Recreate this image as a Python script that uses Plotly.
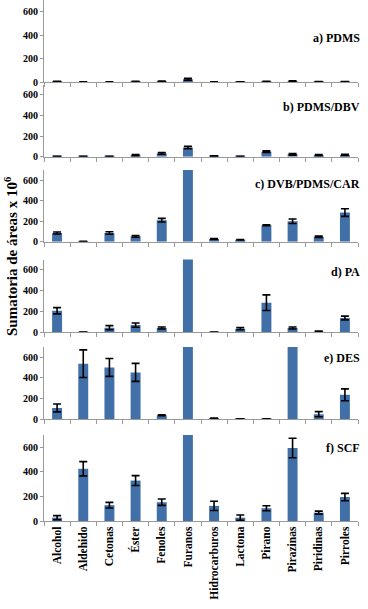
import plotly.graph_objects as go

categories = ["Alcohol", "Aldehido", "Cetonas", "Éster", "Fenoles", "Furanos",
              "Hidrocarburos", "Lactona", "Pirano", "Pirazinas", "Piridinas", "Pirroles"]

panel_labels = ["a) PDMS", "b) PDMS/DBV", "c) DVB/PDMS/CAR", "d) PA", "e) DES", "f) SCF"]

pdms_vals = [5, 2, 2, 5, 8, 25, 2, 3, 5, 8, 4, 4]
pdms_err = [3, 2, 2, 3, 3, 8, 2, 2, 3, 5, 3, 3]

pdms_dbv_vals = [2, 2, 3, 15, 32, 90, 5, 2, 48, 23, 15, 17]
pdms_dbv_err = [2, 2, 2, 5, 8, 12, 3, 2, 8, 8, 6, 6]

dvb_vals = [85, 2, 85, 52, 210, 1500, 26, 19, 160, 200, 48, 284]
dvb_err = [10, 2, 12, 8, 18, 0, 5, 3, 5, 22, 6, 37]

pa_vals = [208, 2, 45, 70, 42, 1500, 2, 36, 285, 42, 8, 138]
pa_err = [30, 2, 20, 20, 10, 0, 2, 10, 75, 10, 5, 18]

des_vals = [110, 538, 502, 454, 39, 1500, 8, 3, 3, 1500, 49, 237]
des_err = [38, 134, 86, 87, 5, 0, 3, 2, 2, 0, 25, 58]

scf_vals = [27, 425, 129, 329, 153, 1500, 123, 27, 104, 594, 68, 195]
scf_err = [17, 58, 23, 40, 26, 0, 38, 22, 20, 79, 12, 30]

y_ticks = [0, 200, 400, 600]

all_vals = [pdms_vals, pdms_dbv_vals, dvb_vals, pa_vals, des_vals, scf_vals]
all_errs = [pdms_err, pdms_dbv_err, dvb_err, pa_err, des_err, scf_err]

# pixel layout (top, bottom) of each panel within the plotting area
W, H = 368, 609
ML, MR, MT, MB = 44, 10, 0, 88
PH = H - MT - MB
panels_px = [(0, 82.3), (84.5, 156.7), (170, 241.7), (259.5, 332.4), (347, 419.3), (435, 521)]
label_px = [38, 107, 184, 272, 358, 448]

BAR = "#4170a9"
AX = "#9a9a9a"
FONT = "Liberation Serif"

fig = go.Figure()
layout = dict(
    width=W, height=H, autosize=False,
    margin=dict(l=ML, r=MR, t=MT, b=MB),
    paper_bgcolor="white", plot_bgcolor="white",
    showlegend=False, bargap=0.6,
    font=dict(family=FONT, color="black"),
)
annotations = []
for i in range(6):
    n = "" if i == 0 else str(i + 1)
    top, bot = panels_px[i]
    fig.add_trace(go.Bar(
        x=categories, y=all_vals[i],
        marker=dict(color=BAR, line=dict(width=0)),
        width=0.38,
        error_y=dict(type="data", array=all_errs[i], visible=True,
                     color="black", thickness=1.6, width=4),
        xaxis="x" + n, yaxis="y" + n,
    ))
    layout["xaxis" + n] = dict(
        domain=[0, 1], anchor="y" + n,
        type="category", categoryorder="array", categoryarray=categories,
        range=[-0.5, 11.5],
        showline=True, linecolor=AX, linewidth=1,
        ticks="outside", tickson="boundaries", ticklen=4, tickcolor=AX,
        showgrid=False, zeroline=False,
        showticklabels=(i == 5), tickangle=-90,
        tickfont=dict(family=FONT, size=11.5, color="black", weight="bold"),
        matches="x" if i > 0 else None,
    )
    layout["yaxis" + n] = dict(
        domain=[(PH - bot) / PH, (PH - top) / PH], anchor="x" + n,
        range=[0, 700], tickvals=y_ticks,
        showline=True, linecolor=AX, linewidth=1,
        ticks="outside", ticklen=3, tickcolor=AX,
        showgrid=False, zeroline=False,
        tickfont=dict(family=FONT, size=10, color="black", weight="bold"),
    )
    annotations.append(dict(
        text="<b>" + panel_labels[i] + "</b>", xref="paper", yref="paper",
        x=(362 - ML) / (W - ML - MR), y=(PH - label_px[i]) / PH,
        xanchor="right", yanchor="middle", showarrow=False,
        font=dict(family=FONT, size=12, color="black"),
    ))

annotations.append(dict(
    text="<b>Sumatoria de áreas x 10<sup>6</sup></b>", xref="paper", yref="paper",
    x=(11 - ML) / (W - ML - MR), y=(PH - 257) / PH,
    xanchor="center", yanchor="middle", showarrow=False, textangle=-90,
    font=dict(family=FONT, size=15, color="black"),
))
layout["annotations"] = annotations
fig.update_layout(**layout)

fig.write_html(
    "out.html",
    config={"displayModeBar": False},
    post_script="document.body.style.margin='0';document.body.style.overflow='hidden';",
)
